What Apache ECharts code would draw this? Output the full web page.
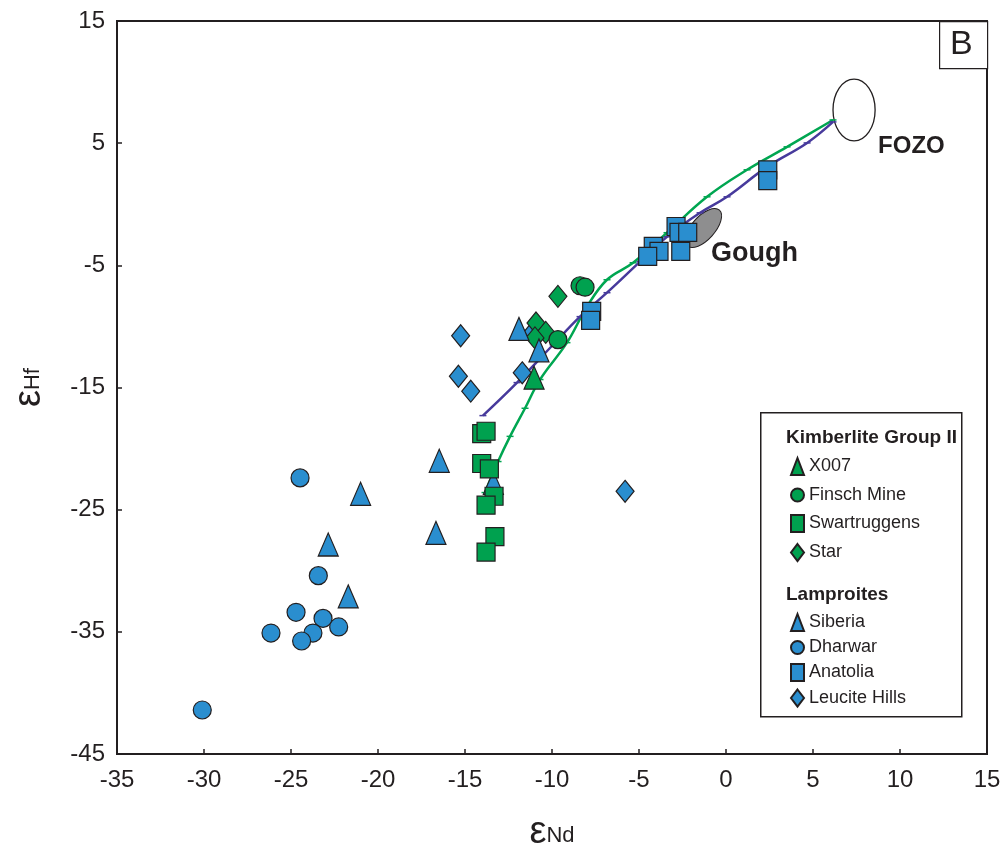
<!DOCTYPE html>
<html>
<head>
<meta charset="utf-8">
<script src="https://cdn.jsdelivr.net/npm/echarts@6/dist/echarts.min.js"></script>
<style>
html,body{margin:0;padding:0;background:#fff;}
#chart{width:1006px;height:857px;}
</style>
</head>
<body>
<div id="chart"></div>
<script>
// ---- Data ----
var xTicks = [-35, -30, -25, -20, -15, -10, -5, 0, 5, 10, 15];
var yTicks = [-45, -35, -25, -15, -5, 5, 15];

var x007X = [-11.03];
var x007Y = [-14.2];
var finschX = [-8.39, -8.1, -9.66];
var finschY = [-6.67, -6.79, -11.08];
var swartX = [-14.04, -13.79, -14.04, -13.6, -13.33, -13.79, -13.28, -13.79];
var swartY = [-18.77, -18.58, -21.22, -21.66, -23.9, -24.63, -27.2, -28.47];
var starX = [-9.66, -10.92, -10.36, -10.98];
var starY = [-7.54, -9.72, -10.49, -10.94];

var siberiaX = [-16.48, -21.0, -22.86, -16.67, -21.71, -11.9, -10.75, -13.37];
var siberiaY = [-21.0, -23.7, -27.85, -26.9, -32.1, -10.2, -11.96, -22.8];
var dharwarX = [-24.48, -23.43, -24.71, -23.16, -26.15, -23.74, -24.39, -22.26, -30.1];
var dharwarY = [-22.4, -30.4, -33.4, -33.9, -35.1, -35.1, -35.75, -34.6, -41.4];
var anatoliaX = [2.4, 2.4, -2.87, -2.7, -2.2, -2.6, -4.18, -3.85, -4.5, -7.72, -7.78];
var anatoliaY = [2.82, 1.94, -1.82, -2.3, -2.31, -3.86, -3.45, -3.86, -4.27, -8.77, -9.5];
var leuciteX = [-15.25, -15.38, -11.71, -11.09, -14.67, -5.8];
var leuciteY = [-10.76, -14.08, -13.8, -10.43, -15.3, -23.5];

// mixing curves
var greenCurveX = [-13.85, -13.1, -12.41, -11.55, -10.69, -9.14, -7.99, -6.84, -5.34, -3.39, -1.09, 1.21, 3.51, 6.15];
var greenCurveY = [-23.6, -21.06, -19.0, -16.7, -14.35, -11.33, -8.39, -6.18, -4.79, -2.33, 0.61, 2.82, 4.7, 6.9];
var purpleCurveX = [-13.97, -12.01, -9.94, -8.39, -6.84, -4.94, -3.39, -1.49, 0.06, 2.36, 4.66, 6.15];
var purpleCurveY = [-17.3, -14.6, -11.5, -9.2, -7.24, -4.7, -2.66, -0.7, 0.61, 3.06, 5.02, 6.74];

// reservoir fields (centre x, centre y, semi-axis x, semi-axis y, tilt deg)
var fieldNames = ['FOZO', 'Gough'];
var fieldCx = [7.36, -1.3];
var fieldCy = [7.72, -1.95];
var fieldRx = [1.21, 1.38];
var fieldRy = [2.53, 0.95];
var fieldTilt = [0, 48];
var fieldLabelX = [8.74, -0.86];
var fieldLabelY = [4.7, -4.0];

var kimberliteNames = ['X007', 'Finsch Mine', 'Swartruggens', 'Star'];
var lamproiteNames = ['Siberia', 'Dharwar', 'Anatolia', 'Leucite Hills'];

// ---- Build ----
function zip(a, b) { return a.map(function (v, i) { return [v, b[i]]; }); }

var GREEN = '#00A14F';
var BLUE = '#2A8ECF';
var EDGE = '#231F20';
var FONT = 'Liberation Sans, Arial, sans-serif';

function scatter(name, xs, ys, symbol, size, color, z) {
  return {
    name: name, type: 'scatter', data: zip(xs, ys), symbol: symbol, symbolSize: size,
    itemStyle: { color: color, borderColor: EDGE, borderWidth: 1.2, opacity: 1 },
    z: z, emphasis: { disabled: true }
  };
}

var fieldData = fieldNames.map(function (n, i) {
  return [fieldCx[i], fieldCy[i], fieldRx[i], fieldRy[i], fieldTilt[i], i];
});
var fieldLabelData = fieldNames.map(function (n, i) {
  return [fieldLabelX[i], fieldLabelY[i], i];
});

var nameRich = {
  e: { fontSize: 38, fontFamily: FONT, color: EDGE, verticalAlign: 'bottom' },
  n: { fontSize: 22, fontFamily: FONT, color: EDGE, verticalAlign: 'bottom', padding: [0, 0, 5, 0] }
};

var chart = echarts.init(document.getElementById('chart'), null, { renderer: 'canvas' });

var option = {
  animation: false,
  backgroundColor: '#fff',
  grid: { left: 117, top: 21, right: 19, bottom: 102, show: true, borderColor: EDGE, borderWidth: 2, backgroundColor: 'transparent' },
  xAxis: {
    type: 'value', min: -35, max: 15, interval: 5,
    splitLine: { show: false },
    axisLine: { show: true, onZero: false, lineStyle: { color: EDGE, width: 2 } },
    axisTick: { show: true, inside: true, length: 5, lineStyle: { color: EDGE, width: 1.5 } },
    axisLabel: { color: EDGE, fontSize: 24, fontFamily: FONT, margin: 14 },
    name: '{e|ε}{n|Nd}', nameLocation: 'middle', nameGap: 60,
    nameTextStyle: { rich: nameRich }
  },
  yAxis: {
    type: 'value', min: -45, max: 15,
    splitLine: { show: false },
    axisLine: { show: true, onZero: false, lineStyle: { color: EDGE, width: 2 } },
    axisTick: { show: true, inside: true, length: 5, customValues: yTicks, lineStyle: { color: EDGE, width: 1.5 } },
    axisLabel: { color: EDGE, fontSize: 24, fontFamily: FONT, margin: 12, customValues: yTicks },
    name: '{e|ε}{n|Hf}', nameLocation: 'middle', nameGap: 68, nameRotate: 90,
    nameTextStyle: { rich: nameRich }
  },
  legend: [
    {
      data: kimberliteNames, orient: 'vertical', left: 790, top: 457, padding: 0, itemWidth: 13, itemHeight: 17, itemGap: 10,
      textStyle: { fontSize: 18, fontFamily: FONT, color: EDGE }, selectedMode: false
    },
    {
      data: lamproiteNames, orient: 'vertical', left: 790, top: 613, padding: 0, itemWidth: 13, itemHeight: 17, itemGap: 6.5,
      textStyle: { fontSize: 18, fontFamily: FONT, color: EDGE }, selectedMode: false
    }
  ],
  graphic: [
    { type: 'rect', left: 760, top: 412, shape: { width: 201, height: 304 }, style: { fill: '#fff', stroke: EDGE, lineWidth: 1.5 }, z: 1 },
    { type: 'text', left: 786, top: 428, style: { text: 'Kimberlite Group II', font: 'bold 19px ' + FONT, fill: EDGE }, z: 2 },
    { type: 'text', left: 786, top: 585, style: { text: 'Lamproites', font: 'bold 19px ' + FONT, fill: EDGE }, z: 2 },
    { type: 'rect', left: 939, top: 21, shape: { width: 48, height: 47 }, style: { fill: '#fff', stroke: EDGE, lineWidth: 1.2 }, z: 2 },
    { type: 'text', left: 950, top: 28, style: { text: 'B', font: '34px ' + FONT, fill: EDGE }, z: 3 }
  ],
  series: [
    {
      name: 'fields', type: 'custom', data: fieldData, z: 1, silent: true,
      renderItem: function (params, api) {
        var c = api.coord([api.value(0), api.value(1)]);
        var s = api.size([api.value(2), api.value(3)]);
        var idx = api.value(5);
        return {
          type: 'ellipse',
          shape: { cx: c[0], cy: c[1], rx: s[0], ry: s[1] },
          originX: c[0], originY: c[1],
          rotation: api.value(4) * Math.PI / 180,
          style: { fill: idx === 0 ? '#fff' : '#8E8E8F', stroke: EDGE, lineWidth: idx === 0 ? 1.3 : 1 }
        };
      }
    },
    {
      name: 'green curve', type: 'line', data: zip(greenCurveX, greenCurveY), smooth: 0.4,
      symbol: 'rect', symbolSize: [7, 1.5], showSymbol: true,
      lineStyle: { color: '#00A651', width: 2.5 }, itemStyle: { color: '#00A651' }, z: 3, silent: true
    },
    {
      name: 'purple curve', type: 'line', data: zip(purpleCurveX, purpleCurveY), smooth: 0.4,
      symbol: 'rect', symbolSize: [7, 1.5], showSymbol: true,
      lineStyle: { color: '#473A9C', width: 2.5 }, itemStyle: { color: '#473A9C' }, z: 3, silent: true
    },
    {
      name: 'field labels', type: 'custom', data: fieldLabelData, z: 4, silent: true,
      renderItem: function (params, api) {
        var c = api.coord([api.value(0), api.value(1)]);
        var idx = api.value(2);
        return {
          type: 'text',
          x: c[0], y: c[1],
          style: {
            text: fieldNames[idx], fill: EDGE,
            font: 'bold ' + (idx === 0 ? 24 : 27) + 'px ' + FONT,
            textAlign: 'left', textVerticalAlign: 'middle'
          }
        };
      }
    },
    scatter('Leucite Hills', leuciteX, leuciteY, 'diamond', [18, 22], BLUE, 5),
    scatter('Dharwar', dharwarX, dharwarY, 'circle', 18, BLUE, 5),
    scatter('Anatolia', anatoliaX, anatoliaY, 'rect', 18, BLUE, 5),
    scatter('Star', starX, starY, 'diamond', [18, 22], GREEN, 6),
    scatter('Finsch Mine', finschX, finschY, 'circle', 18, GREEN, 6),
    scatter('Siberia', siberiaX, siberiaY, 'triangle', [20, 23], BLUE, 7),
    scatter('X007', x007X, x007Y, 'triangle', [20, 23], GREEN, 7),
    scatter('Swartruggens', swartX, swartY, 'rect', 18, GREEN, 8)
  ]
};
chart.setOption(option);
</script>
</body>
</html>
